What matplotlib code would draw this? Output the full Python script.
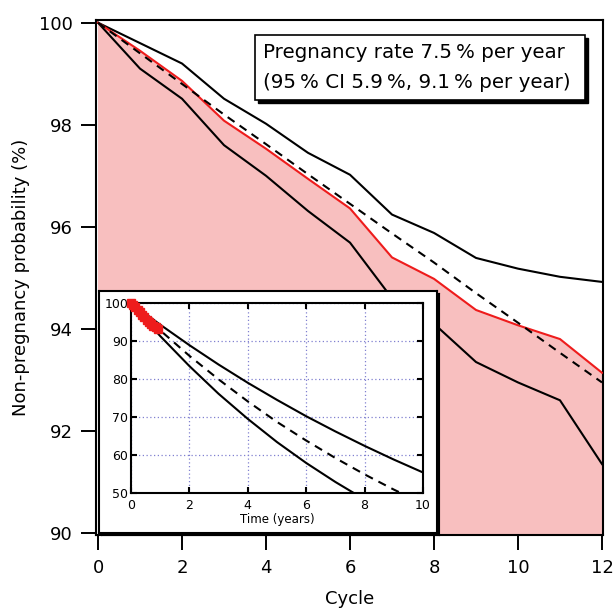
import matplotlib
matplotlib.use("Agg")
import matplotlib.pyplot as plt
from matplotlib.patches import Rectangle

# ---------------- data ----------------
cycles = [0, 1, 2, 3, 4, 5, 6, 7, 8, 9, 10, 11, 12]
km_estimate = [100, 99.45, 98.86, 98.08, 97.53, 96.94, 96.36, 95.40, 94.98, 94.37, 94.07, 93.80, 93.14]
ci_upper = [100, 99.60, 99.20, 98.51, 98.02, 97.45, 97.02, 96.24, 95.88, 95.39, 95.18, 95.02, 94.92]
ci_lower = [100, 99.10, 98.51, 97.60, 97.00, 96.31, 95.69, 94.60, 94.10, 93.35, 92.95, 92.60, 91.35]
model_fit = [100, 99.40, 98.80, 98.20, 97.62, 97.03, 96.45, 95.87, 95.30, 94.70, 94.12, 93.53, 92.95]

cycles_per_year = 13
years = [0, 1, 2, 3, 4, 5, 6, 7, 8, 9, 10]
model_upper_years = [100, 94.3, 88.9, 83.8, 79.0, 74.5, 70.2, 66.2, 62.4, 58.8, 55.4]
model_lower_years = [100, 91.3, 83.4, 76.1, 69.5, 63.4, 57.9, 52.9, 48.3, 44.1, 40.3]
model_mid_years = [100, 92.8, 86.1, 79.9, 74.1, 68.7, 63.8, 59.2, 54.9, 50.9, 47.2]

legend_lines = ["Pregnancy rate 7.5\u2009% per year",
                "(95\u2009% CI 5.9\u2009%, 9.1\u2009% per year)"]

W, H = 615, 612
fig = plt.figure(figsize=(W / 100, H / 100), dpi=100)


def fx(px):
    return px / W


def fy(py):
    return 1 - py / H


pink = "#f8bfbf"
red = "#ee1c1c"

# ---------------- main axes ----------------
ax = fig.add_axes([fx(96), fy(535), fx(603) - fx(96), fy(20) - fy(535)])
ax.fill_between(cycles, km_estimate, 80, color=pink, lw=0, zorder=1)
ax.plot(cycles, ci_upper, color="black", lw=1.5, zorder=3)
ax.plot(cycles, ci_lower, color="black", lw=1.5, zorder=3)
ax.plot(cycles, km_estimate, color=red, lw=1.5, zorder=4)
ax.plot(cycles, model_fit, color="black", lw=1.5, ls=(0, (4, 3)), zorder=5)

ax.set_xlim(-0.048, 12.024)
ax.set_ylim(89.96, 100.053)
ax.set_xticks(range(0, 13, 2))
ax.set_yticks(range(90, 101, 2))
ax.tick_params(direction="out", length=11, width=1.4, labelsize=13, pad=6)
for s in ax.spines.values():
    s.set_linewidth(1.5)
ax.set_xlabel("Cycle", fontsize=13, labelpad=10)
ax.set_ylabel("Non-pregnancy probability (%)", fontsize=13, labelpad=6)

# legend box with shadow
lx0, ly0, lx1, ly1 = 255, 35, 585, 100
ax.add_patch(Rectangle((fx(lx0 + 3), fy(ly1 + 3)), fx(lx1) - fx(lx0), fy(ly0) - fy(ly1),
                       transform=fig.transFigure, facecolor="black", edgecolor="black",
                       zorder=8, clip_on=False))
ax.add_patch(Rectangle((fx(lx0), fy(ly1)), fx(lx1) - fx(lx0), fy(ly0) - fy(ly1),
                       transform=fig.transFigure, facecolor="white", edgecolor="black",
                       lw=1.2, zorder=9, clip_on=False))
fig.text(fx(263), fy(53), legend_lines[0], fontsize=14.3, va="center", ha="left", zorder=10)
fig.text(fx(263), fy(82), legend_lines[1], fontsize=14.3, va="center", ha="left", zorder=10)

# ---------------- inset box ----------------
shadow = fig.add_axes([fx(101), fy(535), fx(439) - fx(101), fy(293) - fy(535)])
shadow.set_facecolor("black")
shadow.set_xticks([])
shadow.set_yticks([])
box = fig.add_axes([fx(99), fy(533), fx(437) - fx(99), fy(291) - fy(533)])
box.set_facecolor("white")
box.set_xticks([])
box.set_yticks([])
for s in box.spines.values():
    s.set_linewidth(1.5)

# ---------------- inset axes ----------------
ins = fig.add_axes([fx(131), fy(493), fx(423) - fx(131), fy(303) - fy(493)])
ins.grid(True, color="#8080d0", ls=(0, (1, 2)), lw=0.9)
ins.plot(years, model_upper_years, color="black", lw=1.5)
ins.plot(years, model_lower_years, color="black", lw=1.5)
ins.plot(years, model_mid_years, color="black", lw=1.5, ls=(0, (4, 3)))
ins.plot([c / cycles_per_year for c in cycles], km_estimate, color=red, lw=4,
         marker="s", ms=6, mec=red, mfc=red, clip_on=False, zorder=5)
ins.set_xlim(0, 10)
ins.set_ylim(50, 100)
ins.set_xticks(range(0, 11, 2))
ins.set_yticks(range(50, 101, 10))
ins.tick_params(direction="in", length=4, width=1.5, labelsize=9, pad=2,
                top=True, right=True)
ins.tick_params(axis="x", pad=4)
for s in ins.spines.values():
    s.set_linewidth(1.5)
ins.set_xlabel("Time (years)", fontsize=8.5, labelpad=1)

fig.savefig("out.png", dpi=100)
